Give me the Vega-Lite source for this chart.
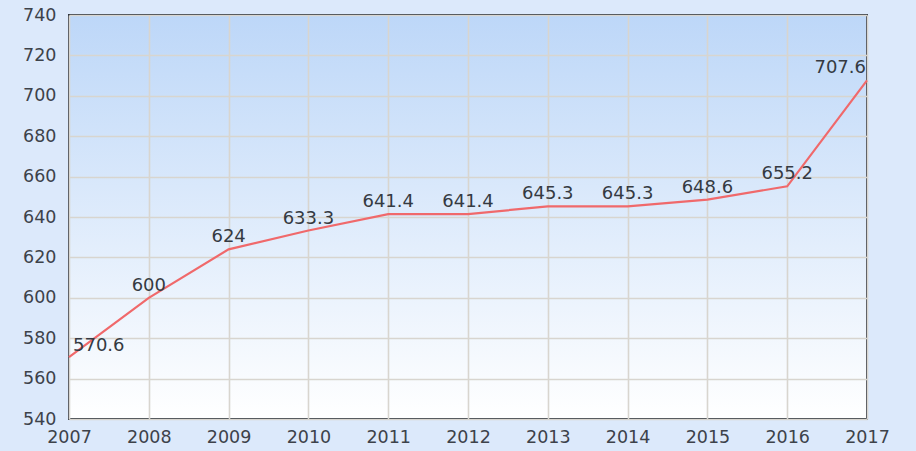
{
  "$schema": "https://vega.github.io/schema/vega-lite/v6.json",
  "width": 798,
  "height": 404,
  "autosize": "none",
  "padding": {"left": 69, "top": 15, "right": 49, "bottom": 32},
  "background": "#dce9fb",
  "config": {
    "view": {
      "stroke": "#2e333b",
      "strokeWidth": 2,
      "fill": {
        "gradient": "linear",
        "x1": 0, "y1": 0, "x2": 0, "y2": 1,
        "stops": [
          {"offset": 0, "color": "#bdd7f8"},
          {"offset": 1, "color": "#ffffff"}
        ]
      }
    },
    "axis": {
      "labelFont": "DejaVu Sans",
      "labelFontSize": 17.5,
      "labelColor": "#3d424a",
      "grid": true,
      "gridColor": "#d8d5cf",
      "gridWidth": 1.6,
      "domain": false,
      "ticks": false,
      "title": null
    }
  },
  "data": {
    "values": [
      {"year": 2007, "value": 570.6},
      {"year": 2008, "value": 600},
      {"year": 2009, "value": 624},
      {"year": 2010, "value": 633.3},
      {"year": 2011, "value": 641.4},
      {"year": 2012, "value": 641.4},
      {"year": 2013, "value": 645.3},
      {"year": 2014, "value": 645.3},
      {"year": 2015, "value": 648.6},
      {"year": 2016, "value": 655.2},
      {"year": 2017, "value": 707.6}
    ]
  },
  "encoding": {
    "x": {
      "field": "year", "type": "quantitative",
      "scale": {"domain": [2007, 2017], "nice": false, "zero": false},
      "axis": {"values": [2007, 2008, 2009, 2010, 2011, 2012, 2013, 2014, 2015, 2016, 2017], "format": "d", "labelPadding": 9, "labelFlush": false}
    },
    "y": {
      "field": "value", "type": "quantitative",
      "scale": {"domain": [540, 740], "nice": false, "zero": false},
      "axis": {"values": [540, 560, 580, 600, 620, 640, 660, 680, 700, 720, 740], "labelPadding": 13}
    }
  },
  "layer": [
    {
      "mark": {"type": "line", "color": "#f0696b", "strokeWidth": 2.2}
    },
    {
      "transform": [{"filter": "datum.year > 2007 && datum.year < 2017"}],
      "mark": {"type": "text", "font": "DejaVu Sans", "fontSize": 18, "color": "#353a42", "baseline": "middle", "align": "center", "dy": -12},
      "encoding": {"text": {"field": "value", "type": "quantitative"}}
    },
    {
      "transform": [{"filter": "datum.year == 2007"}],
      "mark": {"type": "text", "font": "DejaVu Sans", "fontSize": 18, "color": "#353a42", "baseline": "middle", "align": "left", "dx": 4, "dy": -11},
      "encoding": {"text": {"field": "value", "type": "quantitative"}}
    },
    {
      "transform": [{"filter": "datum.year == 2017"}],
      "mark": {"type": "text", "font": "DejaVu Sans", "fontSize": 18, "color": "#353a42", "baseline": "middle", "align": "right", "dx": -1, "dy": -12},
      "encoding": {"text": {"field": "value", "type": "quantitative"}}
    }
  ]
}
